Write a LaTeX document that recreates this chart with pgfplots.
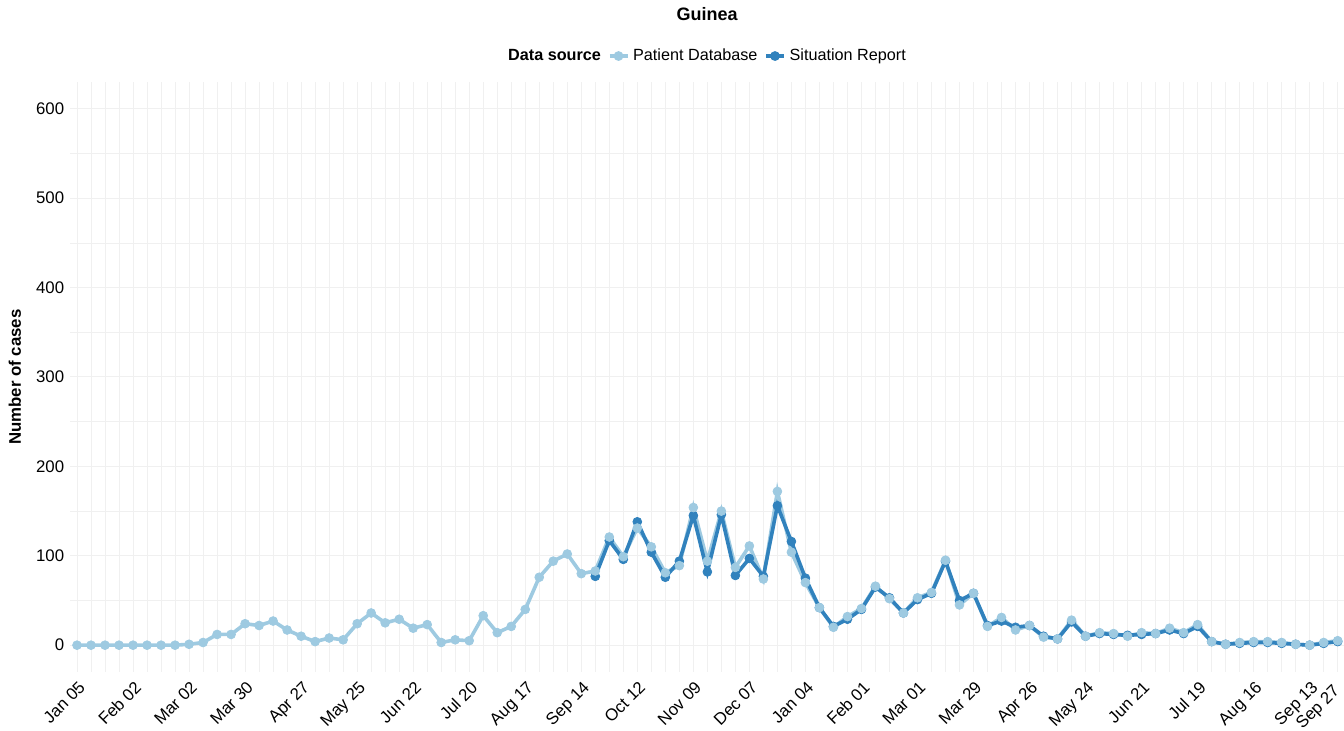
\documentclass[border=0pt]{standalone}
\usepackage{fontspec}
\setmainfont{Liberation Sans}
\usepackage{pgfplots}
\pgfplotsset{compat=1.18}
\usepackage{pgfplotstable}
\definecolor{pdb}{HTML}{9ECAE1}
\definecolor{sr}{HTML}{3182BD}
\definecolor{gridc}{HTML}{F0F0F0}

\pgfplotstableread{
w v
0 0
1 0
2 0
3 0
4 0
5 0
6 0
7 0
8 1
9 3
10 12
11 12
12 24
13 22
14 27
15 17
16 10
17 4
18 8
19 6
20 24
21 36
22 25
23 29
24 19
25 23
26 3
27 6
28 5
29 33
30 14
31 21
32 40
33 76
34 94
35 102
36 80
37 83
38 121
39 99
40 131
41 110
42 81
43 89
44 154
45 94
46 150
47 87
48 111
49 74
50 172
51 104
52 70
53 42
54 20
55 32
56 41
57 66
58 52
59 36
60 53
61 59
62 95
63 45
64 58
65 21
66 31
67 17
68 22
69 9
70 7
71 28
72 10
73 14
74 13
75 10
76 14
77 13
78 19
79 14
80 23
81 4
82 1
83 3
84 4
85 4
86 3
87 1
88 0
89 3
90 5
}\pdtable

\pgfplotstableread{
w v
37 77
38 117
39 96
40 138
41 104
42 76
43 94
44 145
45 82
46 146
47 78
48 97
49 77
50 156
51 116
52 75
53 42
54 21
55 29
56 40
57 65
58 53
59 36
60 51
61 58
62 94
63 50
64 58
65 22
66 27
67 20
68 22
69 10
70 7
71 26
72 10
73 13
74 12
75 11
76 12
77 13
78 17
79 13
80 21
81 4
82 1
83 2
84 3
85 3
86 2
87 1
88 0
89 2
90 4
}\srtable

\begin{document}
\fontsize{8.2}{10}\selectfont
\begin{tikzpicture}
\useasboundingbox (0,0) rectangle (672pt,365.5pt);
\begin{axis}[
  at={(35pt,29.5pt)}, anchor=south west,
  width=637pt, height=295pt, scale only axis,
  xmin=-0.5, xmax=90.45, ymin=-30, ymax=630,
  xtick={0,4,...,88},
  xticklabels={Jan 05,Feb 02,Mar 02,Mar 30,Apr 27,May 25,Jun 22,Jul 20,Aug 17,Sep 14,Oct 12,Nov 09,Dec 07,Jan 04,Feb 01,Mar 01,Mar 29,Apr 26,May 24,Jun 21,Jul 19,Aug 16,Sep 13},
  extra x ticks={90},
  extra x tick labels={Sep 27},
  extra x tick style={xticklabel style={xshift=-3.5pt, yshift=1pt}},
  minor xtick={0,...,90},
  ytick={0,100,...,600},
  minor ytick={50,150,...,550},
  grid=both,
  major grid style={gridc, line width=0.5pt},
  minor grid style={gridc, line width=0.35pt},
  axis line style={draw=none},
  major tick length=0pt, minor tick length=0pt,
  tick label style={font=\fontsize{8.4}{10}\selectfont, text=black},
  /pgf/number format/assume math mode=true,
  xticklabel style={rotate=45, anchor=north east, inner sep=1pt, yshift=-2pt, xshift=-1.5pt},
  ylabel={\textbf{Number of cases}},
  ylabel style={at={(axis description cs:-0.0432,0.5)}, anchor=center, font=\fontsize{8.4}{10}\selectfont},
  legend columns=-1,
  legend style={at={(axis description cs:0.5,1.044)}, anchor=center, draw=none, fill=none,
    font=\fontsize{8.1}{10}\selectfont, inner sep=0pt,
    /tikz/every even column/.append style={column sep=1.5pt}},
  legend image code/.code={\draw[mark repeat=2,mark phase=2,#1] plot coordinates {(0pt,0pt)(4.5pt,0pt)(9pt,0pt)};},
]
\addplot[pdb, line width=1.8pt, forget plot] table[x=w,y=v] {\pdtable};
\addplot[sr, line width=1.8pt, forget plot] table[x=w,y=v] {\srtable};
\addplot[sr, only marks, mark=*, mark size=2.2pt, forget plot] table[x=w,y=v] {\srtable};
\addplot[pdb, only marks, mark=*, mark size=2.2pt, forget plot] table[x=w,y=v] {\pdtable};
\addlegendimage{empty legend}
\addlegendentry{\textbf{Data source}}
\addlegendimage{pdb, line width=1.6pt, mark=*, mark size=1.6pt}
\addlegendentry{Patient Database}
\addlegendimage{sr, line width=1.6pt, mark=*, mark size=1.6pt}
\addlegendentry{Situation Report}
\end{axis}
\node[font=\bfseries\fontsize{9}{11}\selectfont] at (353.5pt,358.5pt) {Guinea};
\end{tikzpicture}
\end{document}
